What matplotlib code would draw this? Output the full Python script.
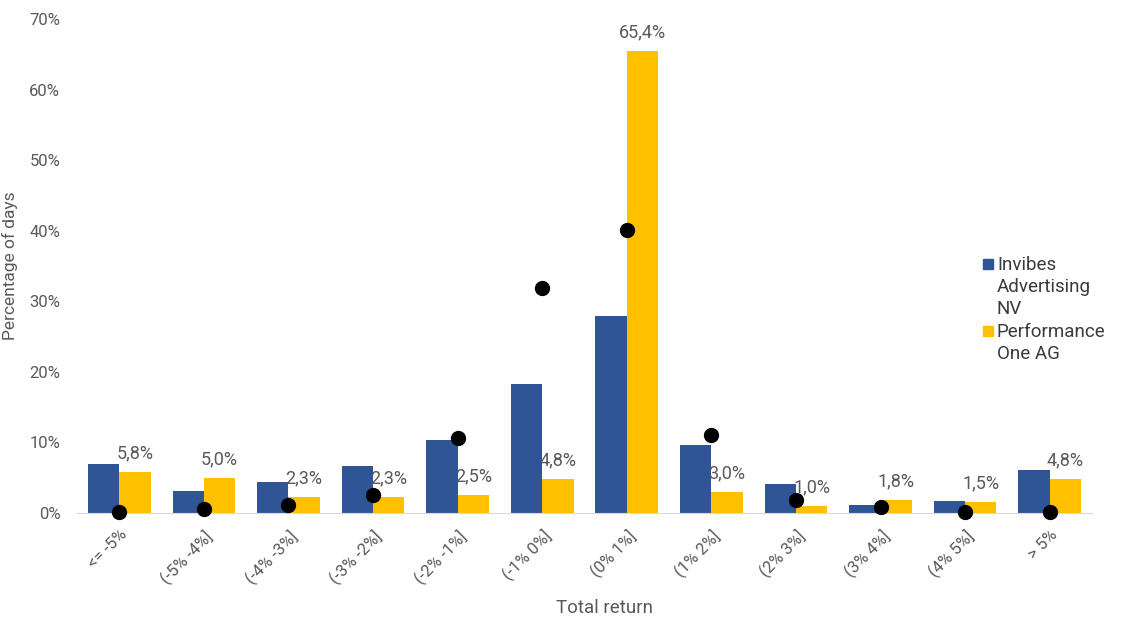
import numpy as np
import matplotlib.pyplot as plt
from matplotlib.ticker import FuncFormatter
from matplotlib.patches import Rectangle

plt.rcParams['font.family'] = ['Roboto', 'DejaVu Sans']

categories = ['<= -5%', '(-5% -4%]', '(-4% -3%]', '(-3% -2%]', '(-2% -1%]', '(-1% 0%]',
              '(0% 1%]', '(1% 2%]', '(2% 3%]', '(3% 4%]', '(4% 5%]', '> 5%']
invibes = [6.9, 3.1, 4.4, 6.7, 10.3, 18.3, 27.9, 9.6, 4.1, 1.1, 1.7, 6.1]
perf_one = [5.8, 5.0, 2.3, 2.3, 2.5, 4.8, 65.4, 3.0, 1.0, 1.8, 1.5, 4.8]
dots = [0.1, 0.6, 1.1, 2.5, 10.6, 31.9, 40.1, 11.1, 1.8, 0.9, 0.1, 0.1]
series_names = ['Invibes\nAdvertising\nNV', 'Performance\nOne AG']

blue = '#2f5597'
yellow = '#ffc000'
grey = '#595959'

W, H = 1121, 618
fig = plt.figure(figsize=(W/100, H/100), dpi=100)
ax = fig.add_axes([77/W, 1 - 513/H, (1092 - 77)/W, (513 - 19)/H])

x = np.arange(len(categories))
w = 0.37
ax.bar(x - w/2, invibes, w, color=blue)
ax.bar(x + w/2, perf_one, w, color=yellow)
ax.plot(x, dots, 'o', color='black', markersize=10, zorder=5, clip_on=False)

for xi, v in zip(x, perf_one):
    ax.annotate(f'{v:.1f}%'.replace('.', ','), (xi + w/2, v), xytext=(0, 7),
                textcoords='offset points', ha='center', va='bottom',
                fontsize=13, color=grey)

ax.set_xlim(-0.5, len(categories) - 0.5)
ax.set_ylim(0, 70)
ax.set_yticks(range(0, 71, 10))
ax.yaxis.set_major_formatter(FuncFormatter(lambda v, p: f'{v:.0f}%'))
ax.set_xticks(x)
ax.set_xticklabels(categories, rotation=45, ha='right', rotation_mode='anchor')
ax.tick_params(length=0, colors=grey, labelsize=12)
ax.tick_params(axis='x', pad=10)
ax.tick_params(axis='y', pad=12)

for s in ['top', 'right', 'left']:
    ax.spines[s].set_visible(False)
ax.spines['bottom'].set_color('#d9d9d9')

ax.set_xlabel('Total return', fontsize=13.5, color=grey)
ax.xaxis.set_label_coords((605 - 77)/1015, -0.175)
ax.set_ylabel('Percentage of days', fontsize=12.5, color=grey)
ax.yaxis.set_label_coords((18 - 77)/1015, 0.5)

# legend: square aligned to first line of each entry
legend_colors = [blue, yellow]
legend_tops = [256, 323]
for name, col, top in zip(series_names, legend_colors, legend_tops):
    fig.add_artist(Rectangle((983/W, 1 - (top + 13)/H), 10/W, 10/H,
                             transform=fig.transFigure, color=col))
    fig.text(997/W, 1 - top/H, name, fontsize=13.5, color='#3a3a3a',
             va='top', ha='left', linespacing=1.3)

fig.savefig('out.png', dpi=100)
